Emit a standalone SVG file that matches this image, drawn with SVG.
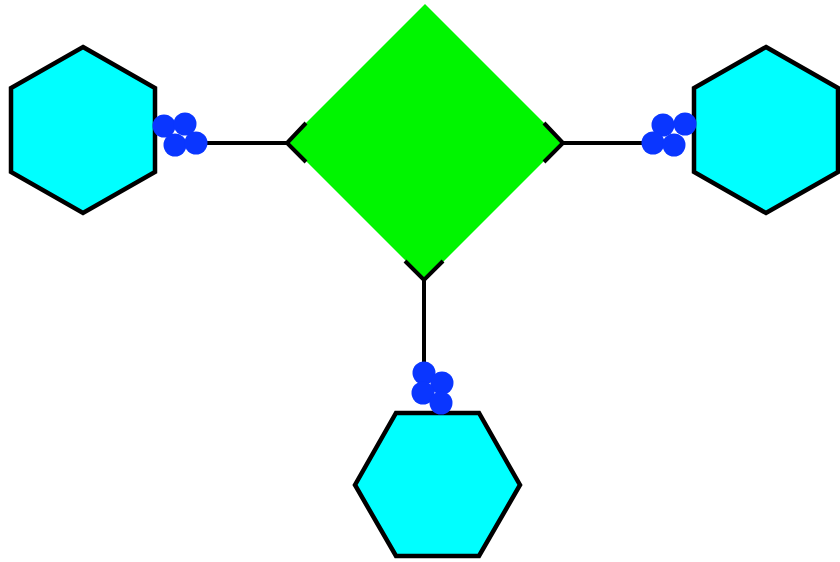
<svg xmlns="http://www.w3.org/2000/svg" width="840" height="562" viewBox="0 0 840 562">
<style>
.hex{fill:#00ffff;stroke:#000;stroke-width:4.5;stroke-linejoin:miter}
.dia{fill:#00f500;stroke:none}
.ln{fill:none;stroke:#000;stroke-width:4}
.dot{fill:#0a36ff}
</style>
<rect width="840" height="562" fill="#fff"/>
<g id="diamond"><polygon class="dia" points="425,4 563,142 425,280 287,142"/></g>
<g id="hex-left"><polygon class="hex" points="83,47 155,88 155,172 83,213 11,172 11,88"/></g>
<g id="hex-right"><polygon class="hex" points="766,47 838,88 838,172 766,213 694,172 694,88"/></g>
<g id="hex-bottom"><polygon class="hex" points="396,413 479,413 520,485 479,556 396,556 355,485"/></g>
<g id="connectors">
<path class="ln" d="M287,143 H203 M306,123 L287,143 L306,162"/>
<path class="ln" d="M563,143 H647 M544,123 L563,143 L544,162"/>
<path class="ln" d="M424,280 V366 M405,261 L424,280 L443,261"/>
<g class="dot">
<circle cx="164" cy="126" r="11.5"/><circle cx="185" cy="124" r="11.5"/><circle cx="175" cy="145" r="11.5"/><circle cx="196" cy="143" r="11.5"/>
<circle cx="663" cy="125" r="11.5"/><circle cx="685" cy="124" r="11.5"/><circle cx="653" cy="143" r="11.5"/><circle cx="674" cy="145" r="11.5"/>
<circle cx="424" cy="373" r="11.5"/><circle cx="442" cy="383" r="11.5"/><circle cx="423" cy="393" r="11.5"/><circle cx="441" cy="403" r="11.5"/>
</g>
</g>
</svg>
